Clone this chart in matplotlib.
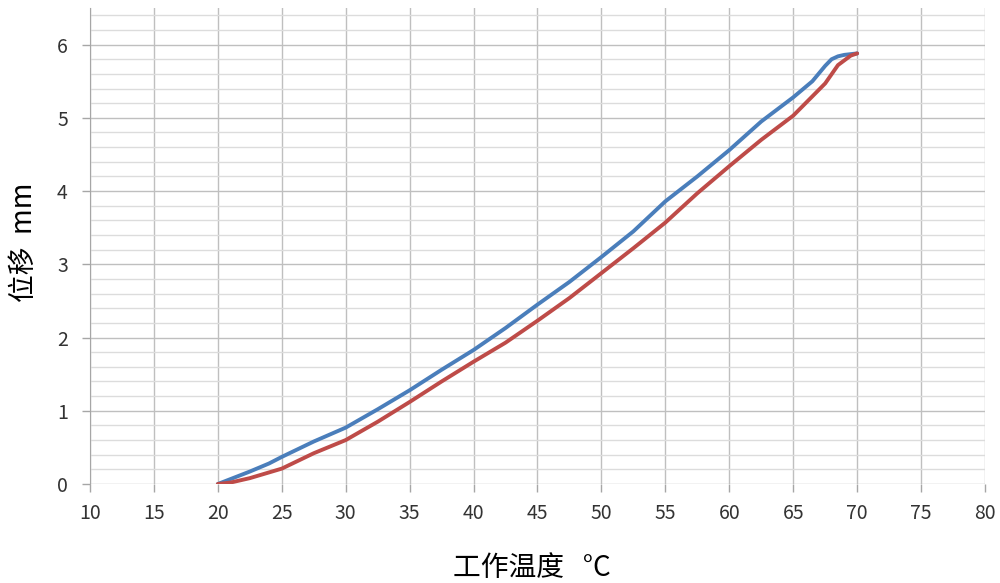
import matplotlib
matplotlib.use("Agg")
import matplotlib.pyplot as plt
from matplotlib.ticker import MultipleLocator

plt.rcParams['font.family'] = ['Noto Sans CJK SC', 'DejaVu Sans']

# data
temp_blue = [20, 22.5, 24, 25, 27.5, 30, 32.5, 35, 37.5, 40, 42.5, 45, 47.5, 50, 52.5, 55,
             57.5, 60, 62.5, 65, 66.5, 67.5, 68, 68.5, 69, 70]
disp_blue = [0, 0.17, 0.28, 0.37, 0.58, 0.77, 1.02, 1.28, 1.56, 1.83, 2.13, 2.45, 2.76, 3.10, 3.45, 3.86,
             4.20, 4.56, 4.95, 5.28, 5.50, 5.71, 5.80, 5.84, 5.86, 5.88]
temp_red = [20, 21, 22.5, 25, 27.5, 30, 32.5, 35, 37.5, 40, 42.5, 45, 47.5, 50, 52.5, 55,
            57.5, 60, 62.5, 65, 67.5, 68.5, 69.5, 70]
disp_red = [0, 0.02, 0.08, 0.21, 0.42, 0.60, 0.85, 1.12, 1.40, 1.67, 1.93, 2.23, 2.54, 2.88, 3.22, 3.57,
            3.97, 4.34, 4.70, 5.03, 5.47, 5.72, 5.85, 5.88]

fig = plt.figure(figsize=(10, 5.83), dpi=100)
ax = fig.add_axes([0.09, 1 - 484 / 583, 0.895, (484 - 8) / 583])

ax.plot(temp_blue, disp_blue, color="#4a7ebb", lw=2.8, solid_capstyle="round",
        solid_joinstyle="round", zorder=3)
ax.plot(temp_red, disp_red, color="#be4b48", lw=2.8, solid_capstyle="round",
        solid_joinstyle="round", zorder=3)

ax.set_xlim(10, 80)
ax.set_ylim(0, 6.5)
ax.xaxis.set_major_locator(MultipleLocator(5))
ax.yaxis.set_major_locator(MultipleLocator(1))
ax.yaxis.set_minor_locator(MultipleLocator(0.2))

ax.grid(which="major", axis="both", color="#bfbfbf", lw=1.0)
ax.grid(which="minor", axis="y", color="#dcdcdc", lw=1.0)
ax.set_axisbelow(True)

for s in ["top", "right", "bottom"]:
    ax.spines[s].set_visible(False)
ax.spines["left"].set_color("#a6a6a6")

ax.tick_params(axis="both", which="major", colors="#a6a6a6", labelcolor="#333333",
               labelsize=14, length=6, width=1)
for lab in ax.get_xticklabels() + ax.get_yticklabels():
    lab.set_fontweight("light")
ax.tick_params(axis="y", which="minor", length=0)
ax.tick_params(axis="x", pad=8)
ax.tick_params(axis="y", pad=10)

fig.text(0.024, 1 - 242 / 583, "位移  mm", rotation=90, fontsize=20, ha="center", va="center")
fig.text(0.532, 1 - 568 / 583, "工作温度   °C", fontsize=20, ha="center", va="center")

fig.savefig("out.png", dpi=100)
